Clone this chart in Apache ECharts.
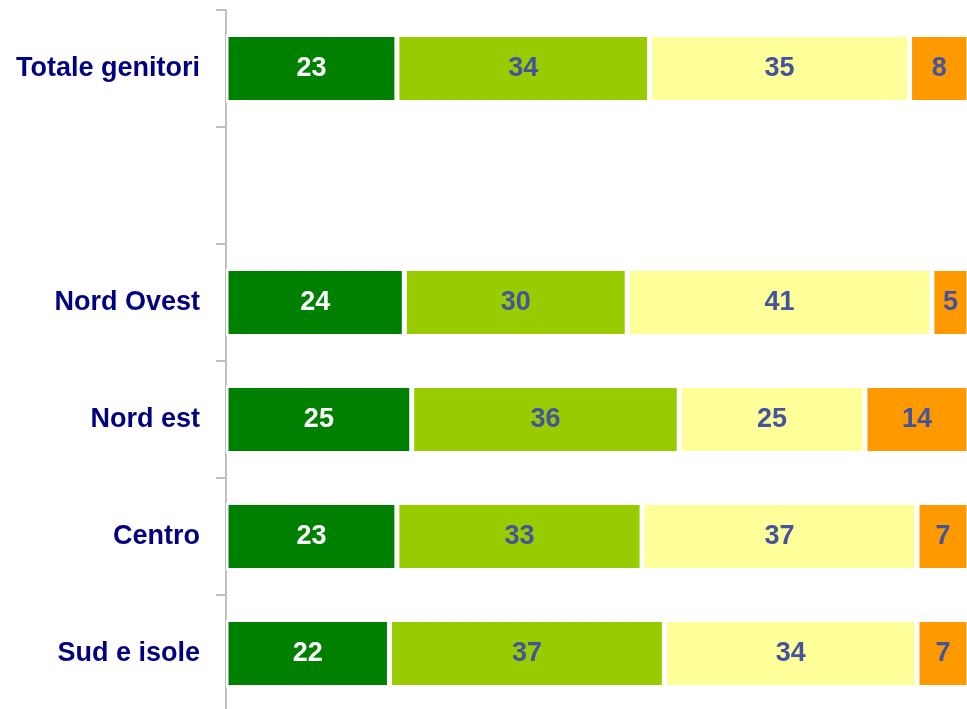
<!DOCTYPE html>
<html lang="it">
<head>
    <meta charset="UTF-8">
    <title>Genitori per area</title>
    <style>
        html, body { margin: 0; padding: 0; background: #fff; }
        #main { width: 967px; height: 709px; }
    </style>
</head>
<body>
<div id="main"></div>
<script src="https://cdn.jsdelivr.net/npm/echarts@6/dist/echarts.min.js"></script>
<script>
    // righe dall'alto al basso, la riga vuota fa da separatore
    let categories = ['Totale genitori', '', 'Nord Ovest', 'Nord est', 'Centro', 'Sud e isole'];
    let serie1 = [23, null, 24, 25, 23, 22];
    let serie2 = [34, null, 30, 36, 33, 37];
    let serie3 = [35, null, 41, 25, 37, 34];
    let serie4 = [8, null, 5, 14, 7, 7];

    let colori = ['#008000', '#99CC00', '#FFFF99', '#FF9900'];
    let coloriTesto = ['#FFFFFF', '#44549C', '#44549C', '#44549C'];
    let font = '"Liberation Sans", Arial, sans-serif';

    function makeSeries(name, data, i) {
        return {
            name: name,
            type: 'bar',
            stack: 'tot',
            data: data,
            barWidth: 68,
            itemStyle: { color: colori[i], borderColor: '#FFFFFF', borderWidth: 2.5 },
            label: {
                show: true,
                position: 'inside',
                color: coloriTesto[i],
                fontFamily: font,
                fontWeight: 'bold',
                fontSize: 27
            },
            silent: true
        };
    }

    let chart = echarts.init(document.getElementById('main'));
    chart.setOption({
        animation: false,
        grid: {
            left: 226, width: 743, top: 10, height: 702,
            containLabel: false, outerBoundsMode: 'none'
        },
        xAxis: {
            type: 'value',
            min: 0,
            max: 100,
            show: false
        },
        yAxis: {
            type: 'category',
            inverse: true,
            data: categories,
            axisLine: { show: true, lineStyle: { color: '#C0C0C0', width: 2 } },
            axisTick: { show: true, length: 10, lineStyle: { color: '#C0C0C0', width: 2 } },
            axisLabel: {
                margin: 26,
                color: '#000080',
                fontFamily: font,
                fontWeight: 'bold',
                fontSize: 27
            },
            splitLine: { show: false }
        },
        series: [
            makeSeries('s1', serie1, 0),
            makeSeries('s2', serie2, 1),
            makeSeries('s3', serie3, 2),
            makeSeries('s4', serie4, 3)
        ]
    });
</script>
</body>
</html>
